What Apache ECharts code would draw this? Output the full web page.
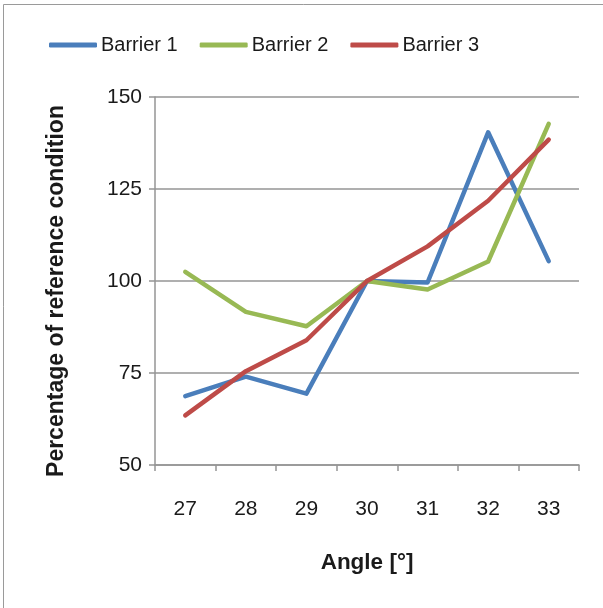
<!DOCTYPE html>
<html><head><meta charset="utf-8">
<script src="https://cdn.jsdelivr.net/npm/echarts@6/dist/echarts.min.js"></script>
<style>html,body{margin:0;padding:0;background:#fff}#c{width:603px;height:608px}</style>
</head><body><div id="c"></div>
<script>
const categories = ['27','28','29','30','31','32','33'];
const barrier1 = [68.7, 74.0, 69.4, 100.0, 99.6, 140.4, 105.4];
const barrier2 = [102.5, 91.6, 87.7, 100.0, 97.7, 105.3, 142.7];
const barrier3 = [63.5, 75.5, 83.9, 100.0, 109.4, 121.8, 138.4];
const seriesNames = ['Barrier 1','Barrier 2','Barrier 3'];
const colors = ['#4A7EBB','#98B954','#BE4B48'];

const chart = echarts.init(document.getElementById('c'), null, {renderer:'canvas'});
const font = 'Liberation Sans, Arial, sans-serif';
const gray = '#959595';
const lineStyleFor = (i) => ({width: 4.5, color: colors[i], cap: 'round', join: 'round'});
chart.setOption({
  animation: false,
  color: colors,
  graphic: [{type:'rect', shape:{x:3.5,y:4.5,width:700,height:700}, style:{fill:'none', stroke:'#9a9a9a', lineWidth:1}, silent:true}],
  legend: {
    left: 44, top: 30, itemWidth: 48, itemHeight: 5, itemGap: 22,
    icon: 'roundRect',
    textStyle: {fontFamily: font, fontSize: 20, color: '#1a1a1a', padding:[0,0,0,-1]},
    data: seriesNames
  },
  grid: {left: 155, right: 24, top: 97, bottom: 143, containLabel: false},
  xAxis: {
    type: 'category', data: categories, boundaryGap: true,
    name: 'Angle [°]', nameLocation: 'middle', nameGap: 86,
    nameTextStyle: {fontFamily: font, fontSize: 22.5, fontWeight: 'bold', color: '#1a1a1a'},
    axisLine: {lineStyle: {color: gray, width: 1.5}},
    axisTick: {show: true, length: 6, alignWithLabel: false, lineStyle: {color: gray, width: 1.5}},
    axisLabel: {fontFamily: font, fontSize: 21, color: '#1a1a1a', margin: 34},
    splitLine: {show: false}
  },
  yAxis: {
    type: 'value', min: 50, max: 150, interval: 25,
    name: 'Percentage of reference condition', nameLocation: 'middle', nameGap: 87,
    nameTextStyle: {fontFamily: font, fontSize: 23, fontWeight: 'bold', color: '#1a1a1a', padding: [0, 20, 0, 0]},
    axisLine: {show: true, lineStyle: {color: gray, width: 1.5}},
    axisTick: {show: true, length: 6, lineStyle: {color: gray, width: 1.5}},
    axisLabel: {fontFamily: font, fontSize: 21, color: '#1a1a1a', margin: 13},
    splitLine: {show: true, lineStyle: {color: gray, width: 1.5}}
  },
  series: [
    {name: seriesNames[0], type: 'line', data: barrier1, symbol: 'none', lineStyle: lineStyleFor(0)},
    {name: seriesNames[1], type: 'line', data: barrier2, symbol: 'none', lineStyle: lineStyleFor(1)},
    {name: seriesNames[2], type: 'line', data: barrier3, symbol: 'none', lineStyle: lineStyleFor(2)}
  ]
});
</script></body></html>
